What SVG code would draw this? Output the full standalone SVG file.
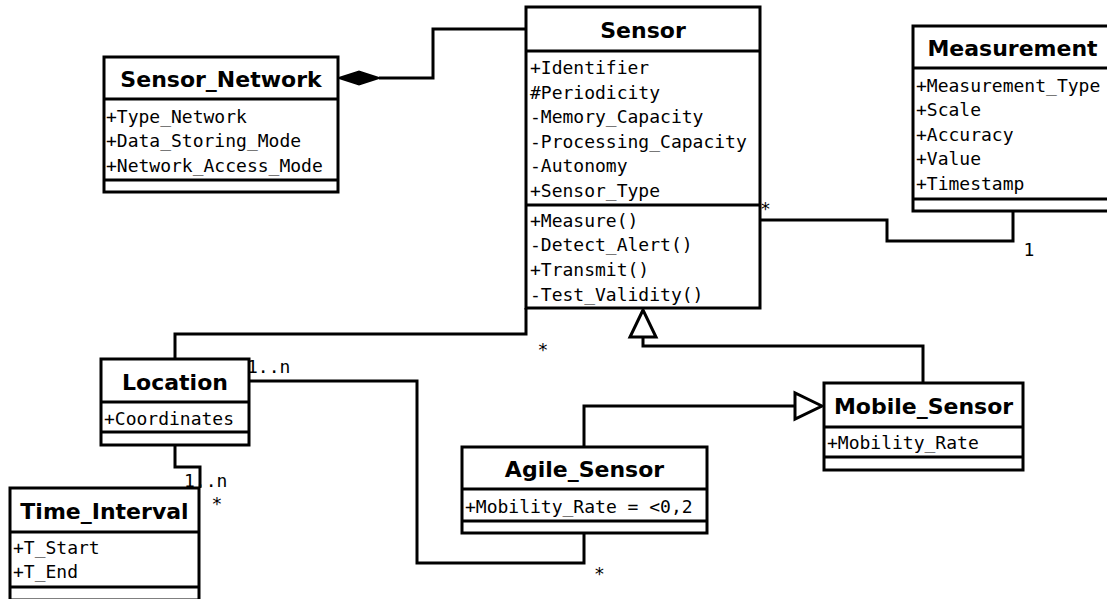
<svg xmlns="http://www.w3.org/2000/svg" width="1107" height="599" viewBox="0 0 1107 599">
<style>
.box{fill:#fff;stroke:#000;stroke-width:3}
.div{stroke:#000;stroke-width:3;fill:none}
.title{font-family:"DejaVu Sans","Liberation Sans",sans-serif;font-weight:bold;font-size:22px;text-anchor:middle;fill:#000}
.attr{font-family:"DejaVu Sans Mono","Liberation Mono",monospace;font-size:18px;fill:#000}
.conn{fill:none;stroke:#000;stroke-width:3}
.gen{fill:#fff;stroke:#000;stroke-width:3}
.comp{fill:#000;stroke:#000;stroke-width:2}
</style>
<rect width="1107" height="599" fill="#fff"/>
<g id="connectors">
  <polyline class="conn" points="379,78 433,78 433,29 526,29"/>
  <polygon class="comp" points="339,78 359,71.5 379,78 359,84.5"/>
  <polyline class="conn" points="760,220 887,220 887,241 1013,241 1013,211"/>
  <polyline class="conn" points="526,308 526,334 175,334 175,359"/>
  <polyline class="conn" points="923,383 923,346 643,346 643,337"/>
  <polygon class="gen" points="643,310 630,337 656,337"/>
  <polyline class="conn" points="584,447 584,406 795,406"/>
  <polygon class="gen" points="822,406 795,393 795,419"/>
  <polyline class="conn" points="175,445 175,467 200,467 200,488"/>
  <polyline class="conn" points="249,381 417,381 417,563 584,563 584,533"/>
  <text class="attr" x="247" y="373">1..n</text>
  <text class="attr" x="184" y="487">1..n</text>
  <text class="attr" x="211.5" y="510">*</text>
  <text class="attr" x="537.6" y="356">*</text>
  <text class="attr" x="760" y="215">*</text>
  <text class="attr" x="1023.6" y="256">1</text>
  <text class="attr" x="594" y="580">*</text>
</g>
<g id="Sensor_Network">
  <rect class="box" x="104" y="57" width="234" height="135"/>
  <line class="div" x1="104" y1="99" x2="338" y2="99"/>
  <line class="div" x1="104" y1="180" x2="338" y2="180"/>
  <text class="title" x="221" y="87">Sensor_Network</text>
  <text class="attr" x="106" y="122.5">+Type_Network</text>
  <text class="attr" x="106" y="147">+Data_Storing_Mode</text>
  <text class="attr" x="106" y="171.5">+Network_Access_Mode</text>
</g>
<g id="Sensor">
  <rect class="box" x="526" y="7" width="234" height="301"/>
  <line class="div" x1="526" y1="51" x2="760" y2="51"/>
  <line class="div" x1="526" y1="205" x2="760" y2="205"/>
  <text class="title" x="643" y="38">Sensor</text>
  <text class="attr" x="530" y="74">+Identifier</text>
  <text class="attr" x="530" y="98.5">#Periodicity</text>
  <text class="attr" x="530" y="123">-Memory_Capacity</text>
  <text class="attr" x="530" y="147.5">-Processing_Capacity</text>
  <text class="attr" x="530" y="172">-Autonomy</text>
  <text class="attr" x="530" y="196.5">+Sensor_Type</text>
  <text class="attr" x="530" y="226.5">+Measure()</text>
  <text class="attr" x="530" y="251">-Detect_Alert()</text>
  <text class="attr" x="530" y="276">+Transmit()</text>
  <text class="attr" x="530" y="300.5">-Test_Validity()</text>
</g>
<g id="Measurement">
  <rect class="box" x="913" y="26" width="199" height="185"/>
  <line class="div" x1="913" y1="68" x2="1112" y2="68"/>
  <line class="div" x1="913" y1="199" x2="1112" y2="199"/>
  <text class="title" x="1012.5" y="56">Measurement</text>
  <text class="attr" x="916" y="92">+Measurement_Type</text>
  <text class="attr" x="916" y="116">+Scale</text>
  <text class="attr" x="916" y="140.5">+Accuracy</text>
  <text class="attr" x="916" y="165">+Value</text>
  <text class="attr" x="916" y="190">+Timestamp</text>
</g>
<g id="Location">
  <rect class="box" x="101" y="359" width="148" height="86"/>
  <line class="div" x1="101" y1="402" x2="249" y2="402"/>
  <line class="div" x1="101" y1="432" x2="249" y2="432"/>
  <text class="title" x="175" y="389.5">Location</text>
  <text class="attr" x="104" y="425">+Coordinates</text>
</g>
<g id="Time_Interval">
  <rect class="box" x="10" y="488" width="189" height="112"/>
  <line class="div" x1="10" y1="532" x2="199" y2="532"/>
  <line class="div" x1="10" y1="587" x2="199" y2="587"/>
  <text class="title" x="104.5" y="519">Time_Interval</text>
  <text class="attr" x="13" y="554">+T_Start</text>
  <text class="attr" x="13" y="578">+T_End</text>
</g>
<g id="Agile_Sensor">
  <rect class="box" x="462" y="447" width="245" height="86"/>
  <line class="div" x1="462" y1="489" x2="707" y2="489"/>
  <line class="div" x1="462" y1="521" x2="707" y2="521"/>
  <text class="title" x="584.5" y="477">Agile_Sensor</text>
  <text class="attr" x="465" y="513">+Mobility_Rate = &lt;0,2</text>
</g>
<g id="Mobile_Sensor">
  <rect class="box" x="824" y="383" width="199" height="87"/>
  <line class="div" x1="824" y1="427" x2="1023" y2="427"/>
  <line class="div" x1="824" y1="457" x2="1023" y2="457"/>
  <text class="title" x="923.5" y="414">Mobile_Sensor</text>
  <text class="attr" x="827" y="449">+Mobility_Rate</text>
</g>
</svg>
